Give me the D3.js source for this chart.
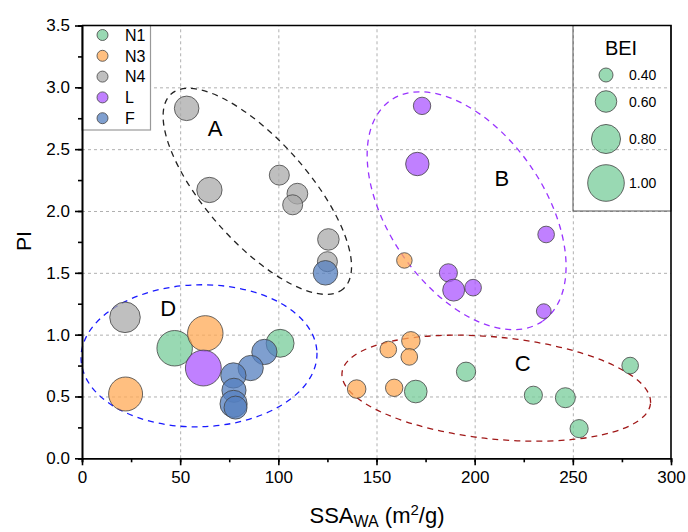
<!DOCTYPE html>
<head>
<style>
  body { margin: 0; background: #fff; }
  text { font-family: "Liberation Sans", Arial, sans-serif; fill: #000; }
  .grid line { stroke: #b0b0b0; stroke-dasharray: 3,3; stroke-width: 1; }
  .grid path { stroke-width: 0; }
  .axis path, .axis line { stroke: #000; stroke-width: 1.6; }
  .axis text { font-size: 17px; }
</style>
</head>
<body>
<svg width="688" height="532"></svg>
<script src="https://d3js.org/d3.v7.min.js"></script>
<script>

// series: [SSA_WA, PI, BEI]
var groups = ["N1", "N3", "N4", "L", "F"];
var colors = ["#77cc9a", "#ffaa56", "#aaaaaa", "#ab56ff", "#547fbf"];

var n1 = [[47.2, 0.89, 0.97], [100.9, 0.93, 0.77], [170, 0.54, 0.63], [195.6, 0.70, 0.54],
          [229.9, 0.51, 0.51], [246.2, 0.49, 0.56], [253.2, 0.24, 0.51], [279.2, 0.75, 0.47]];
var n3 = [[22.2, 0.52, 0.93], [62.8, 1.01, 0.97], [139.9, 0.56, 0.52], [156, 0.88, 0.47],
          [167.5, 0.95, 0.52], [166.7, 0.82, 0.47], [159, 0.57, 0.49], [164.2, 1.60, 0.44]];
var n4 = [[53.3, 2.83, 0.68], [64.9, 2.17, 0.70], [100.5, 2.29, 0.56], [109.7, 2.14, 0.58],
          [107.3, 2.05, 0.56], [125.5, 1.77, 0.60], [125, 1.59, 0.56], [21.9, 1.14, 0.84]];
var lSer = [[61.8, 0.73, 0.98], [173.2, 2.85, 0.49], [170.8, 2.38, 0.65], [236.4, 1.81, 0.47],
            [186.6, 1.50, 0.51], [189.3, 1.36, 0.61], [199.2, 1.38, 0.47], [235.2, 1.19, 0.42]];
var fSer = [[124, 1.50, 0.68], [92.9, 0.86, 0.70], [85.9, 0.73, 0.70], [77.1, 0.67, 0.70],
            [77.4, 0.55, 0.67], [77.2, 0.44, 0.75], [78.2, 0.41, 0.64]];
var series = [n1, n3, n4, lSer, fSer];

var beiTicks = [0.40, 0.60, 0.80, 1.00];
var xTicks = [0, 50, 100, 150, 200, 250, 300];
var yTicks = [0, 0.5, 1.0, 1.5, 2.0, 2.5, 3.0, 3.5];

// cluster ellipses (centre in data units, radii in px, angle in deg)
var clusters = ["A", "B", "C", "D"];
var clusterCx = [89.3, 195.9, 211.0, 59.6];
var clusterCy = [2.159, 2.002, 0.567, 0.829];
var clusterRx = [130, 134, 155, 118];
var clusterRy = [51, 78, 51, 71];
var clusterAng = [48.5, 55.5, 5.7, -1.5];
var clusterCol = ["#222", "#9933ff", "#a01818", "#1a1aff"];
var labelX = [67.8, 213.8, 224.5, 43.9];
var labelY = [2.672, 2.267, 0.774, 1.214];

var x = d3.scaleLinear().domain([0, 300]).range([82, 671]);
var y = d3.scaleLinear().domain([0, 3.5]).range([458.3, 25.5]);
var r = d3.scaleLinear().domain([0.4, 1.0]).range([7, 18.3]);

var svg = d3.select("svg");

// grid
svg.append("g").attr("class", "grid")
  .attr("transform", "translate(0,458.3)")
  .call(d3.axisBottom(x).tickValues([50, 100, 150, 200, 250]).tickSize(-432.8).tickFormat(""));
svg.append("g").attr("class", "grid")
  .attr("transform", "translate(82,0)")
  .call(d3.axisLeft(y).tickValues([0.5, 1, 1.5, 2, 2.5, 3]).tickSize(-589).tickFormat(""));

// ellipses
clusters.forEach(function(c, i) {
  svg.append("ellipse")
    .attr("transform", "translate(" + x(clusterCx[i]) + "," + y(clusterCy[i]) + ") rotate(" + clusterAng[i] + ")")
    .attr("rx", clusterRx[i]).attr("ry", clusterRy[i])
    .attr("fill", "none")
    .attr("stroke", clusterCol[i])
    .attr("stroke-width", 1.3)
    .attr("stroke-dasharray", "6,5");
  svg.append("text")
    .attr("x", x(labelX[i])).attr("y", y(labelY[i]))
    .attr("text-anchor", "middle").attr("dy", "0.36em")
    .style("font-size", "22px")
    .text(c);
});

// bubbles
series.forEach(function(s, gi) {
  svg.append("g").selectAll("circle")
    .data(s).enter().append("circle")
    .attr("cx", function(d) { return x(d[0]); })
    .attr("cy", function(d) { return y(d[1]); })
    .attr("r", function(d) { return r(d[2]); })
    .attr("fill", colors[gi])
    .attr("fill-opacity", 0.75)
    .attr("stroke", "#444")
    .attr("stroke-opacity", 0.8)
    .attr("stroke-width", 1);
});

// group legend
svg.append("rect")
  .attr("x", 82).attr("y", 25.5).attr("width", 68.5).attr("height", 104.5)
  .attr("fill", "#fff").attr("stroke", "#999").attr("stroke-width", 1.2);
groups.forEach(function(g, i) {
  var ly = 35 + i * 20.8;
  svg.append("circle").attr("cx", 102.5).attr("cy", ly).attr("r", 5.5)
    .attr("fill", colors[i]).attr("fill-opacity", 0.75)
    .attr("stroke", "#444").attr("stroke-opacity", 0.8);
  svg.append("text").attr("x", 125).attr("y", ly).attr("dy", "0.36em")
    .style("font-size", "16px").text(g);
});

// BEI legend
svg.append("rect")
  .attr("x", 573).attr("y", 25.5).attr("width", 98).attr("height", 185.5)
  .attr("fill", "none").attr("stroke", "#555").attr("stroke-width", 1);
svg.append("text").attr("x", 621).attr("y", 55)
  .attr("text-anchor", "middle").style("font-size", "20px").text("BEI");
var beiY = [75, 101.5, 139, 183];
beiTicks.forEach(function(b, i) {
  svg.append("circle").attr("cx", 606).attr("cy", beiY[i]).attr("r", r(b))
    .attr("fill", colors[0]).attr("fill-opacity", 0.75)
    .attr("stroke", "#444").attr("stroke-opacity", 0.8);
  svg.append("text").attr("x", 629).attr("y", beiY[i]).attr("dy", "0.36em")
    .style("font-size", "14px").text(d3.format(".2f")(b));
});

// axes
svg.append("g").attr("class", "axis")
  .attr("transform", "translate(0,458.3)")
  .call(d3.axisBottom(x).tickValues(d3.range(0, 301, 25)).tickSize(4).tickFormat(""));
svg.append("g").attr("class", "axis")
  .attr("transform", "translate(0,458.3)")
  .call(d3.axisBottom(x).tickValues(xTicks).tickSize(7).tickSizeOuter(0).tickPadding(6));
svg.append("g").attr("class", "axis")
  .attr("transform", "translate(82,0)")
  .call(d3.axisLeft(y).tickValues(d3.range(0, 3.51, 0.25)).tickSize(4).tickFormat(""));
svg.append("g").attr("class", "axis")
  .attr("transform", "translate(82,0)")
  .call(d3.axisLeft(y).tickValues(yTicks).tickSize(7).tickSizeOuter(0).tickPadding(5)
    .tickFormat(d3.format(".1f")));

// frame top/right
svg.append("path")
  .attr("d", "M82,25.5H671V458.3")
  .attr("fill", "none").attr("stroke", "#000").attr("stroke-width", 1.6);

// titles
svg.append("text")
  .attr("transform", "translate(31,241) rotate(-90)")
  .attr("text-anchor", "middle").style("font-size", "21px").text("PI");
var xt = svg.append("text").attr("x", 377).attr("y", 523)
  .attr("text-anchor", "middle").style("font-size", "22px");
xt.append("tspan").text("SSA");
xt.append("tspan").attr("dy", 4).style("font-size", "16px").text("WA");
xt.append("tspan").attr("dy", -4).text(" (m");
xt.append("tspan").attr("dy", -8).style("font-size", "15px").text("2");
xt.append("tspan").attr("dy", 8).text("/g)");

</script>
</body>
</html>
